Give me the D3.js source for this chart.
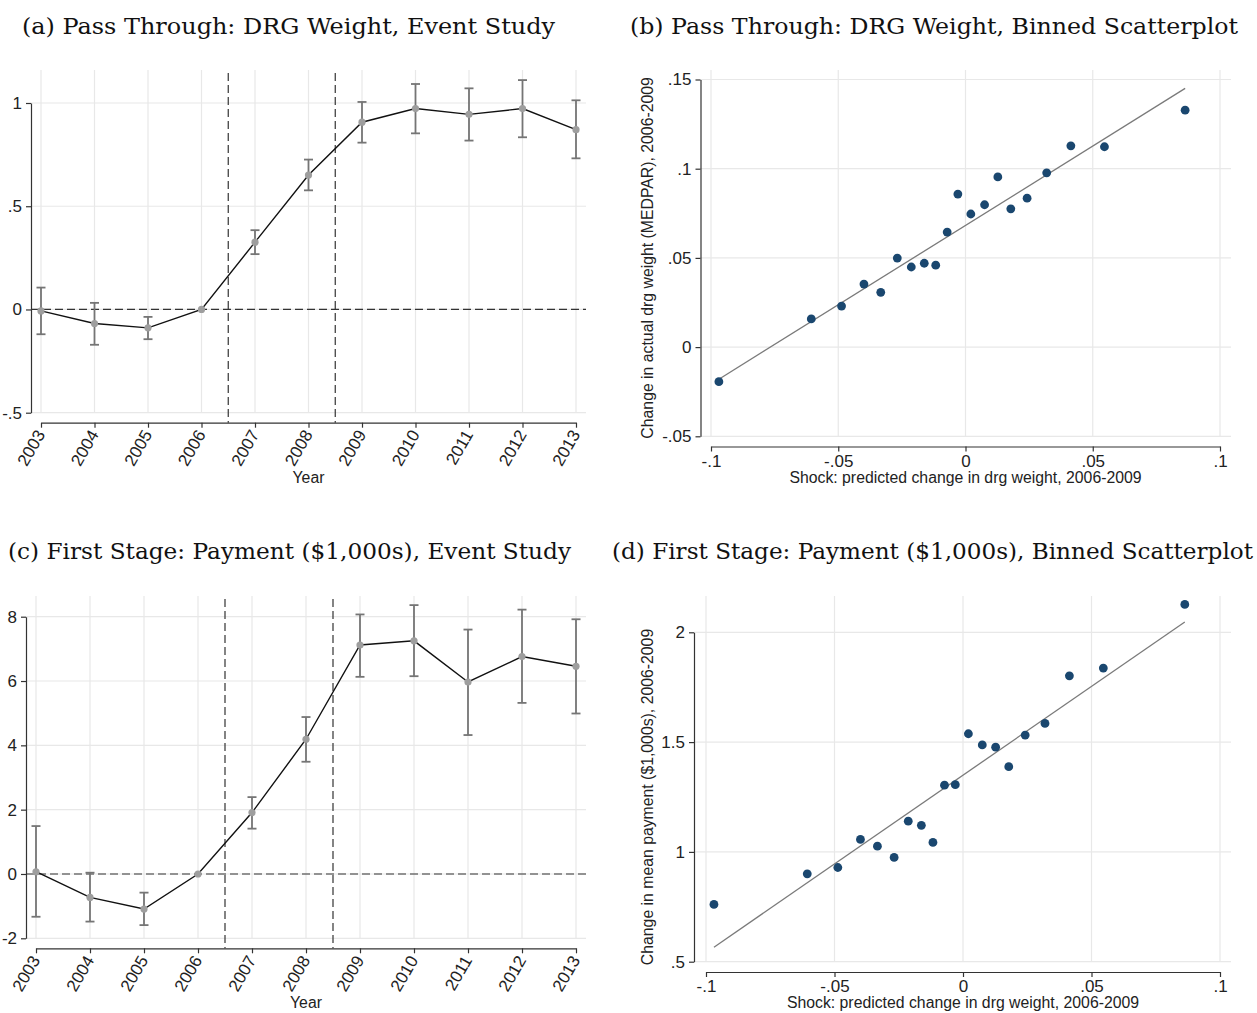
<!DOCTYPE html>
<html>
<head>
<meta charset="utf-8">
<script src="https://cdn.jsdelivr.net/npm/d3@7"></script>
<style>
  body { margin: 0; background: #fff; }
  svg { display: block; }
  .axis path, .axis line { stroke: #333; stroke-width: 1.2; }
</style>
</head>
<body>
<script>
// ---- data ----
const years = [2003, 2004, 2005, 2006, 2007, 2008, 2009, 2010, 2011, 2012, 2013];

// (a) pass through, DRG weight
const drgCoef = [-0.007, -0.068, -0.089, 0, 0.326, 0.651, 0.907, 0.973, 0.945, 0.973, 0.871];
const drgLo   = [-0.12, -0.171, -0.144, null, 0.268, 0.577, 0.808, 0.853, 0.818, 0.834, 0.732];
const drgHi   = [0.106, 0.032, -0.036, null, 0.384, 0.726, 1.005, 1.092, 1.071, 1.111, 1.013];

// (c) first stage, payment ($1,000s)
const payCoef = [0.07, -0.73, -1.09, 0, 1.91, 4.19, 7.12, 7.25, 5.97, 6.76, 6.46];
const payLo   = [-1.33, -1.48, -1.59, null, 1.41, 3.49, 6.13, 6.15, 4.32, 5.32, 4.99];
const payHi   = [1.49, 0.04, -0.58, null, 2.39, 4.88, 8.07, 8.36, 7.6, 8.22, 7.92];

// (b)/(d) binned scatter, shock bins shared
const shockBins = [-0.0969, -0.0606, -0.0487, -0.0399, -0.0333, -0.0268, -0.0213, -0.0162, -0.0117, -0.0072,
                   -0.003, 0.0021, 0.0075, 0.0127, 0.0178, 0.0242, 0.0319, 0.0414, 0.0546, 0.0863];
const drgChange = [-0.0194, 0.0158, 0.023, 0.0353, 0.0307, 0.0499, 0.0449, 0.047, 0.0459, 0.0645,
                   0.0858, 0.0746, 0.0798, 0.0954, 0.0775, 0.0835, 0.0977, 0.1128, 0.1123, 0.1328];
const payChange = [0.761, 0.9, 0.929, 1.057, 1.026, 0.975, 1.14, 1.121, 1.043, 1.304,
                   1.306, 1.538, 1.487, 1.477, 1.388, 1.532, 1.585, 1.802, 1.837, 2.127];

// fitted line, value at the first and last bin
const drgFit = [-0.018, 0.145];
const payFit = [0.566, 2.047];

const yTicksA = [-0.5, 0, 0.5, 1];
const yTicksC = [-2, 0, 2, 4, 6, 8];
const xTicksBD = [-0.1, -0.05, 0, 0.05, 0.1];
const yTicksB = [-0.05, 0, 0.05, 0.1, 0.15];
const yTicksD = [0.5, 1, 1.5, 2];

const titles = [
  {text: '(a) Pass Through: DRG Weight, Event Study', x: 22, y: 34, w: 533},
  {text: '(b) Pass Through: DRG Weight, Binned Scatterplot', x: 630, y: 34, w: 608},
  {text: '(c) First Stage: Payment ($1,000s), Event Study', x: 8, y: 559, w: 563},
  {text: '(d) First Stage: Payment ($1,000s), Binned Scatterplot', x: 612, y: 559, w: 641}
];

const sansFont = '"Liberation Sans", Arial, sans-serif';
const tickFont = '17px';

// Stata-like number labels: .5, -.05
function stataFmt(v) {
  let s = String(+v.toFixed(4));
  return s.replace(/^(-?)0\./, '$1.');
}

const svg = d3.select('body').append('svg')
  .attr('width', 1257)
  .attr('height', 1013);

titles.forEach(function(t) {
  svg.append('text')
    .attr('x', t.x).attr('y', t.y)
    .attr('textLength', t.w)
    .attr('lengthAdjust', 'spacingAndGlyphs')
    .style('font-family', '"DejaVu Serif", "Liberation Serif", serif')
    .style('font-size', '22px')
    .style('fill', '#111')
    .text(t.text);
});

function frame(p, xTicks, yTicks, x, y) {
  const g = svg.append('g');
  // grid
  g.selectAll('.vg').data(xTicks).enter().append('line')
    .attr('x1', d => x(d)).attr('x2', d => x(d))
    .attr('y1', p.plotTop).attr('y2', y(yTicks[0]))
    .attr('stroke', '#e8e8e8').attr('stroke-width', 1.2);
  g.selectAll('.hg').data(yTicks).enter().append('line')
    .attr('x1', p.yAxisX).attr('x2', p.plotRight)
    .attr('y1', d => y(d)).attr('y2', d => y(d))
    .attr('stroke', '#e8e8e8').attr('stroke-width', 1.2);
  return g;
}

function axes(p, x, y, xTicks, yTicks, rotate, xTitle, yTitle) {
  const yAxis = d3.axisLeft(y).tickValues(yTicks).tickFormat(stataFmt)
    .tickSize(5).tickSizeOuter(0).tickPadding(4);
  const yg = svg.append('g').attr('class', 'axis')
    .attr('transform', 'translate(' + p.yAxisX + ',0)')
    .call(yAxis);
  yg.selectAll('.tick text')
    .style('font-family', sansFont).style('font-size', tickFont).style('fill', '#222');

  const xAxis = d3.axisBottom(x).tickValues(xTicks)
    .tickFormat(rotate ? d3.format('d') : stataFmt)
    .tickSize(5).tickSizeOuter(0).tickPadding(3);
  const xg = svg.append('g').attr('class', 'axis')
    .attr('transform', 'translate(0,' + p.xAxisY + ')')
    .call(xAxis);
  xg.selectAll('.tick text')
    .style('font-family', sansFont).style('font-size', tickFont).style('fill', '#222');
  if (rotate) {
    xg.selectAll('.tick text')
      .attr('text-anchor', 'end')
      .attr('dy', '0.35em')
      .attr('transform', 'translate(0,7) rotate(-60)')
      .attr('y', 0).attr('x', -2);
  }

  svg.append('text')
    .attr('x', (p.xLeft + p.xRight) / 2)
    .attr('y', p.xTitleY)
    .attr('text-anchor', 'middle')
    .style('font-family', sansFont)
    .style('font-size', '15.8px').style('fill', '#222')
    .text(xTitle);

  if (yTitle) {
    svg.append('text')
      .attr('transform', 'translate(' + p.yTitleX + ',' + ((y.range()[0] + y.range()[1]) / 2) + ') rotate(-90)')
      .attr('text-anchor', 'middle')
      .style('font-family', sansFont)
      .style('font-size', '15.8px').style('fill', '#222')
      .text(yTitle);
  }
}

function eventStudy(p, coef, lo, hi, yTicks) {
  const x = d3.scaleLinear().domain([years[0], years[years.length - 1]]).range([p.xLeft, p.xRight]);
  const y = d3.scaleLinear().domain([yTicks[0], yTicks[yTicks.length - 1]]).range([p.yBottom, p.yTop]);
  const g = frame(p, years, yTicks, x, y);

  // reference lines
  g.append('line')
    .attr('x1', p.yAxisX).attr('x2', p.plotRight)
    .attr('y1', y(0)).attr('y2', y(0))
    .attr('stroke', '#333').attr('stroke-width', 1.2).attr('stroke-dasharray', '8,4');
  [2006.5, 2008.5].forEach(function(v) {
    g.append('line')
      .attr('x1', x(v)).attr('x2', x(v))
      .attr('y1', p.plotTop + 3).attr('y2', p.xAxisY)
      .attr('stroke', '#333').attr('stroke-width', 1.2).attr('stroke-dasharray', '8,4');
  });

  const pts = years.map((yr, i) => ({yr: yr, c: coef[i], lo: lo[i], hi: hi[i]}));
  const bars = pts.filter(d => d.lo !== null);

  g.selectAll('.ci').data(bars).enter().append('line')
    .attr('x1', d => x(d.yr)).attr('x2', d => x(d.yr))
    .attr('y1', d => y(d.lo)).attr('y2', d => y(d.hi))
    .attr('stroke', '#757575').attr('stroke-width', 1.8);
  ['lo', 'hi'].forEach(function(k) {
    g.selectAll('.cap' + k).data(bars).enter().append('line')
      .attr('x1', d => x(d.yr) - 4.5).attr('x2', d => x(d.yr) + 4.5)
      .attr('y1', d => y(d[k])).attr('y2', d => y(d[k]))
      .attr('stroke', '#757575').attr('stroke-width', 1.8);
  });

  const line = d3.line().x(d => x(d.yr)).y(d => y(d.c));
  g.append('path')
    .attr('d', line(pts))
    .attr('fill', 'none').attr('stroke', '#111').attr('stroke-width', 1.4);

  g.selectAll('.pt').data(pts).enter().append('circle')
    .attr('cx', d => x(d.yr)).attr('cy', d => y(d.c))
    .attr('r', 3.6).attr('fill', '#9e9e9e');

  axes(p, x, y, years, yTicks, true, 'Year', null);
}

function binScatter(p, yVals, fit, yTicks, yTitle) {
  const x = d3.scaleLinear().domain([-0.1, 0.1]).range([p.xLeft, p.xRight]);
  const y = d3.scaleLinear().domain([yTicks[0], yTicks[yTicks.length - 1]]).range([p.yBottom, p.yTop]);
  const g = frame(p, xTicksBD, yTicks, x, y);

  const ends = [shockBins[0], shockBins[shockBins.length - 1]];
  g.append('line')
    .attr('x1', x(ends[0])).attr('y1', y(fit[0]))
    .attr('x2', x(ends[1])).attr('y2', y(fit[1]))
    .attr('stroke', '#7a7a7a').attr('stroke-width', 1.3);

  const pts = shockBins.map((s, i) => ({s: s, v: yVals[i]}));
  g.selectAll('.dot').data(pts).enter().append('circle')
    .attr('cx', d => x(d.s)).attr('cy', d => y(d.v))
    .attr('r', 4.4).attr('fill', '#1a476f');

  axes(p, x, y, xTicksBD, yTicks, false, 'Shock: predicted change in drg weight, 2006-2009', yTitle);
}

eventStudy({yAxisX: 31, xLeft: 41, xRight: 576, yTop: 103, yBottom: 412.7, plotTop: 70, plotRight: 586,
            xAxisY: 422.7, xTitleY: 483},
           drgCoef, drgLo, drgHi, yTicksA);

eventStudy({yAxisX: 26, xLeft: 36, xRight: 576, yTop: 616.7, yBottom: 938.3, plotTop: 596, plotRight: 586,
            xAxisY: 948.3, xTitleY: 1008},
           payCoef, payLo, payHi, yTicksC);

binScatter({yAxisX: 700.5, xLeft: 711, xRight: 1220, yTop: 79.5, yBottom: 436.3, plotTop: 70, plotRight: 1231,
            xAxisY: 446.5, xTitleY: 483, yTitleX: 653},
           drgChange, drgFit, yTicksB, 'Change in actual drg weight (MEDPAR), 2006-2009');

binScatter({yAxisX: 694, xLeft: 706, xRight: 1220, yTop: 632.3, yBottom: 961.7, plotTop: 596, plotRight: 1231,
            xAxisY: 972, xTitleY: 1008, yTitleX: 653},
           payChange, payFit, yTicksD, 'Change in mean payment ($1,000s), 2006-2009');
</script>
</body>
</html>
